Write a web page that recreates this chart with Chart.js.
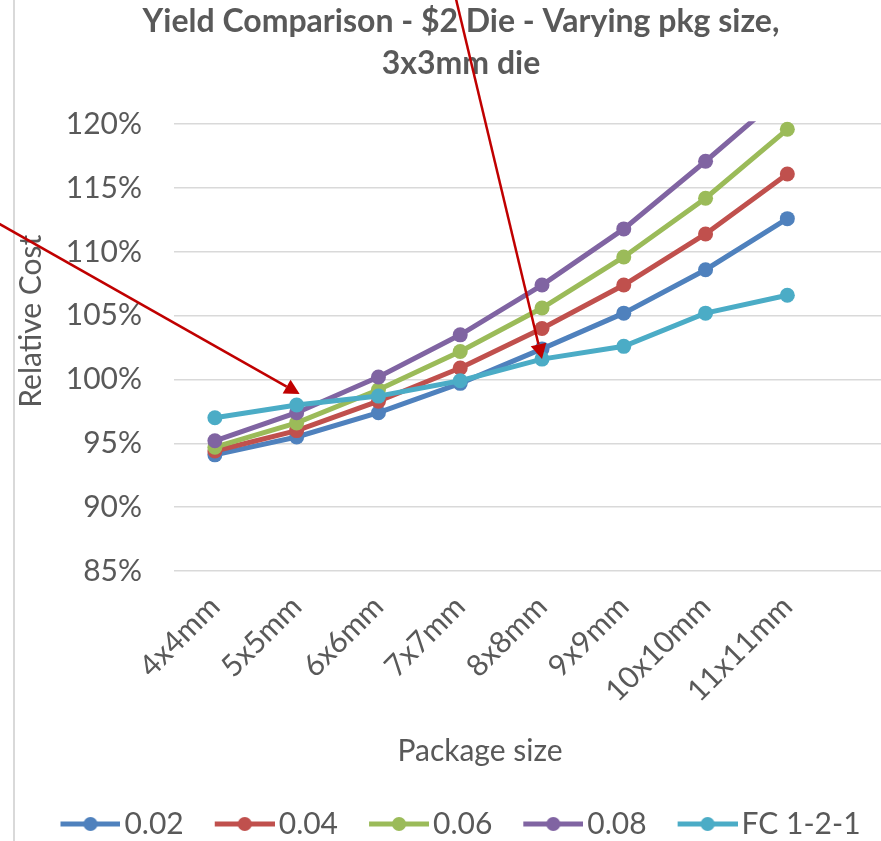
<!DOCTYPE html>
<html>
<head>
<meta charset="utf-8">
<script src="https://cdn.jsdelivr.net/npm/chart.js@4.4.1/dist/chart.umd.min.js"></script>
<style>
  html, body { margin: 0; padding: 0; background: #fff; overflow: hidden; width: 881px; height: 841px; }
  #wrap { position: absolute; left: 0; top: 0; width: 924px; height: 849px; }
</style>
</head>
<body>
<div id="wrap"><canvas id="chart"></canvas></div>
<script>
// Package sizes along the category axis (the last slot is left empty)
const categories = ['4x4mm', '5x5mm', '6x6mm', '7x7mm', '8x8mm', '9x9mm', '10x10mm', '11x11mm', ''];

// Relative cost (%) per package size for each defect density, plus the FC 1-2-1 reference
const cost002 = [94.1, 95.5, 97.4, 99.7, 102.4, 105.2, 108.6, 112.6];
const cost004 = [94.4, 96.0, 98.3, 100.9, 104.0, 107.4, 111.4, 116.1];
const cost006 = [94.7, 96.6, 99.2, 102.2, 105.6, 109.6, 114.2, 119.6];
const cost008 = [95.2, 97.4, 100.2, 103.5, 107.4, 111.8, 117.1, 122.6];
const costFC121 = [97.0, 98.0, 98.7, 99.9, 101.6, 102.6, 105.2, 106.6];

const seriesNames = ['0.02', '0.04', '0.06', '0.08', 'FC 1-2-1'];
const seriesValues = [cost002, cost004, cost006, cost008, costFC121];
const seriesColors = ['#4F81BD', '#C0504D', '#9BBB59', '#8064A2', '#4BACC6'];

const yTicks = [85, 90, 95, 100, 105, 110, 115, 120];

const chartTitle = ['Yield Comparison - $2 Die - Varying pkg size,', '3x3mm die'];
const xAxisTitle = 'Package size';
const yAxisTitle = 'Relative Cost';

const FONT = 'Lato';
const TEXT = '#595959';

// Callouts: arrows pointing at FC 1-2-1 points, entering from outside the plot
const callouts = [
  { dataset: 4, index: 1, offset: [3, -11], from: [-300, -170] },
  { dataset: 4, index: 4, offset: [0, 0], from: [-86, -360] }
];

// Line-with-marker swatches for the legend
function legendSwatch(color) {
  const c = document.createElement('canvas');
  c.width = 70; c.height = 20;
  const g = c.getContext('2d');
  g.strokeStyle = color; g.lineWidth = 5; g.lineCap = 'butt';
  g.beginPath(); g.moveTo(10, 10); g.lineTo(70, 10); g.stroke();
  g.fillStyle = color;
  g.beginPath(); g.arc(40, 10, 7, 0, Math.PI * 2); g.fill();
  return c;
}
const swatches = seriesColors.map(legendSwatch);

const datasets = seriesNames.map((name, i) => ({
  label: name,
  data: seriesValues[i],
  borderColor: seriesColors[i],
  backgroundColor: seriesColors[i],
  pointBackgroundColor: seriesColors[i],
  pointBorderColor: seriesColors[i],
  borderWidth: 5,
  pointRadius: 7.5,
  pointBorderWidth: 0,
  pointHoverRadius: 7.5,
  tension: 0,
  order: seriesNames.length - i,
  clip: { left: false, right: false, top: 3, bottom: false }
}));

const decorations = {
  id: 'decorations',
  beforeDraw(chart) {
    const ctx = chart.ctx;
    ctx.save();
    ctx.fillStyle = '#d9d9d9';
    ctx.fillRect(13, 0, 2, chart.height);
    ctx.restore();
  },
  afterDraw(chart) {
    const ctx = chart.ctx;
    const area = chart.chartArea;
    ctx.save();
    ctx.font = `30px ${FONT}`;
    ctx.fillStyle = TEXT;
    ctx.textAlign = 'center';
    ctx.textBaseline = 'middle';
    ctx.fillText(xAxisTitle, area.left + 306, area.bottom + 180);
    ctx.translate(31, area.top + 197);
    ctx.rotate(-Math.PI / 2);
    ctx.fillText(yAxisTitle, 0, 0);
    ctx.restore();

    // arrows
    ctx.save();
    ctx.strokeStyle = '#C00000';
    ctx.fillStyle = '#C00000';
    ctx.lineWidth = 2.5;
    callouts.forEach(c => {
      const pt = chart.getDatasetMeta(c.dataset).data[c.index];
      const tx = pt.x + c.offset[0], ty = pt.y + c.offset[1];
      const len = Math.hypot(c.from[0], c.from[1]);
      const ux = -c.from[0] / len, uy = -c.from[1] / len;
      const headLen = 15, headHalf = 8;
      const bx = tx - ux * headLen, by = ty - uy * headLen;
      ctx.beginPath();
      ctx.moveTo(tx + c.from[0] * 1.5, ty + c.from[1] * 1.5);
      ctx.lineTo(bx, by);
      ctx.stroke();
      ctx.beginPath();
      ctx.moveTo(tx, ty);
      ctx.lineTo(bx - uy * headHalf, by + ux * headHalf);
      ctx.lineTo(bx + uy * headHalf, by - ux * headHalf);
      ctx.closePath();
      ctx.fill();
    });
    ctx.restore();
  }
};

new Chart(document.getElementById('chart'), {
  type: 'line',
  data: { labels: categories, datasets },
  plugins: [decorations],
  options: {
    responsive: true,
    maintainAspectRatio: false,
    animation: false,
    devicePixelRatio: 1,
    layout: { padding: { left: 12, right: 14, top: 0, bottom: 0 } },
    plugins: {
      tooltip: { enabled: false },
      title: {
        display: true,
        text: chartTitle,
        color: TEXT,
        font: { family: FONT, size: 32, weight: 'bold', lineHeight: 1.3 },
        padding: { top: 1, bottom: 40 }
      },
      legend: {
        position: 'bottom',
        labels: {
          usePointStyle: true,
          pointStyleWidth: 48,
          boxHeight: 20,
          padding: 32,
          color: TEXT,
          font: { family: FONT, size: 30 },
          generateLabels: chart => chart.data.datasets.map((ds, i) => ({
            text: ds.label,
            pointStyle: swatches[i],
            fillStyle: ds.borderColor,
            strokeStyle: ds.borderColor,
            lineWidth: 0,
            hidden: false,
            datasetIndex: i,
            fontColor: TEXT
          }))
        }
      }
    },
    scales: {
      x: {
        offset: true,
        grid: { display: false, offset: true },
        border: { display: false },
        ticks: {
          color: TEXT,
          font: { family: FONT, size: 30 },
          minRotation: 45,
          maxRotation: 45,
          autoSkip: false,
          padding: 10
        },
        afterFit: scale => { scale.height = 206; }
      },
      y: {
        min: 85,
        max: 120,
        grid: { color: '#d9d9d9', lineWidth: 1.5, drawTicks: false },
        border: { display: false },
        afterBuildTicks: scale => { scale.ticks = yTicks.map(v => ({ value: v })); },
        ticks: {
          color: TEXT,
          font: { family: FONT, size: 30 },
          padding: 32,
          callback: v => v + '%'
        },
        afterFit: scale => { scale.width = 162; }
      }
    }
  }
});
</script>
</body>
</html>
